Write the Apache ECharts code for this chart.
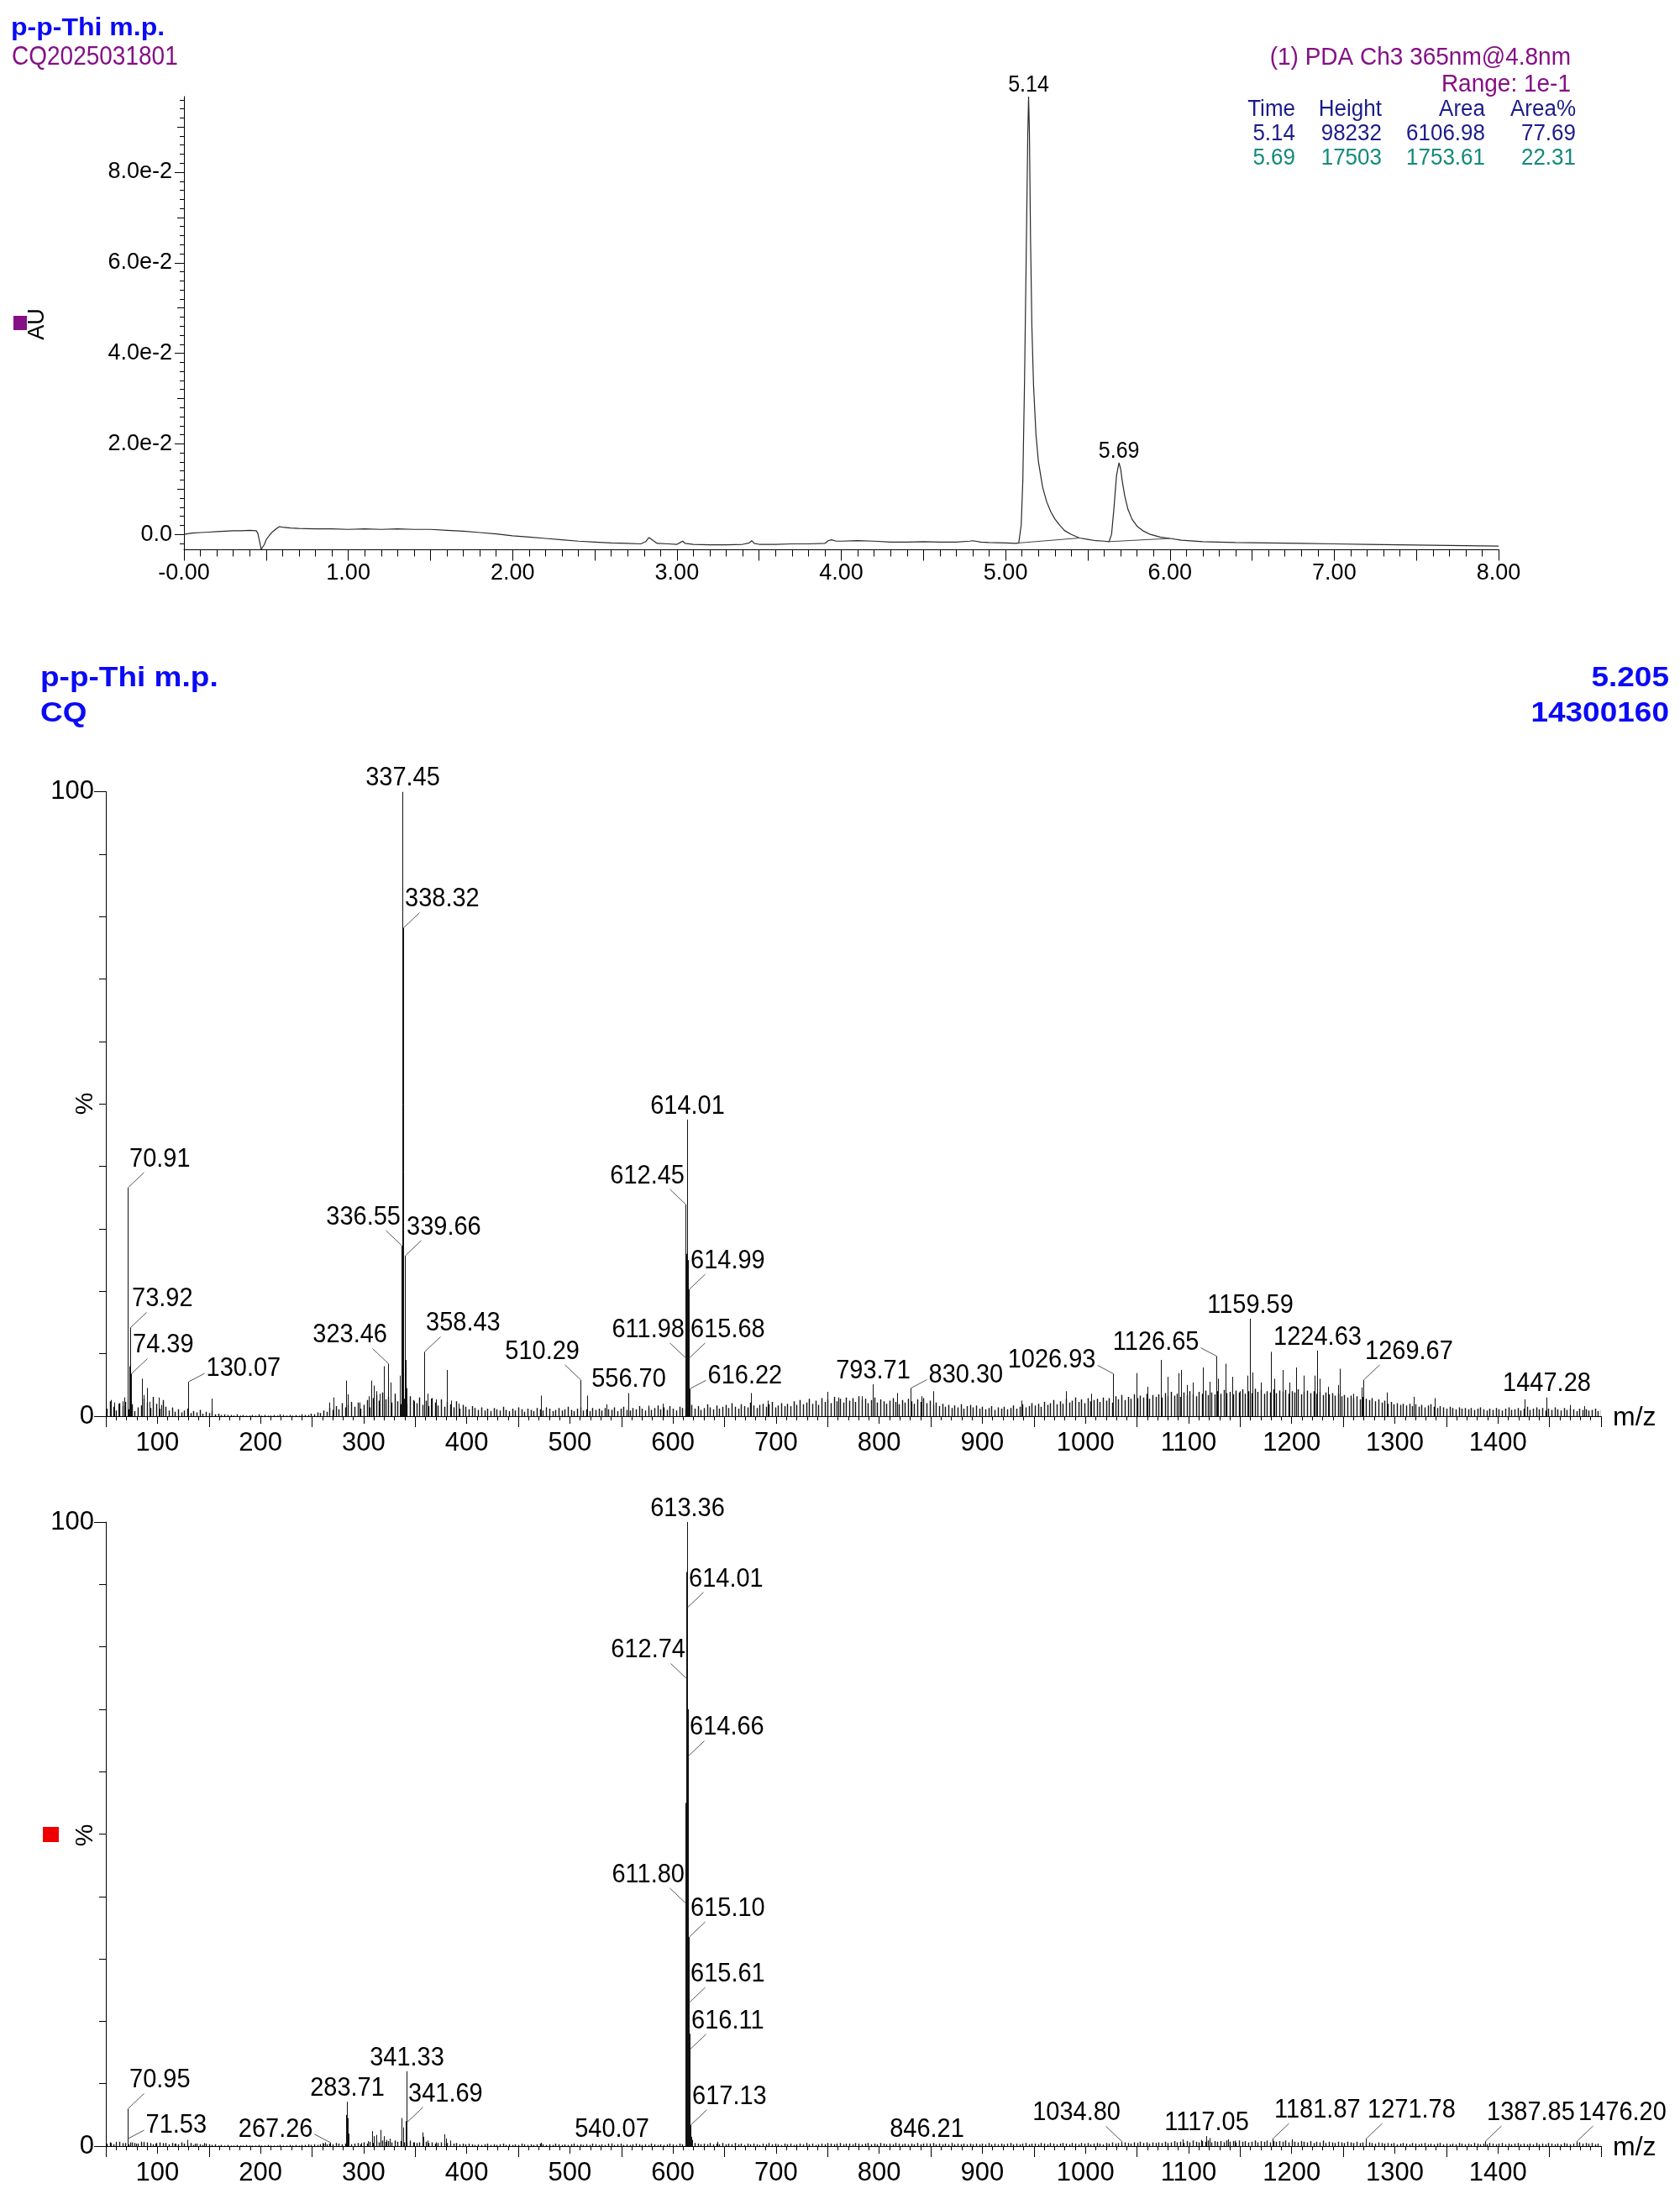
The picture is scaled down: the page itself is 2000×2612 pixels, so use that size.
<!DOCTYPE html>
<html><head><meta charset="utf-8">
<script src="https://cdn.jsdelivr.net/npm/echarts@6/dist/echarts.min.js"></script>
<style>html,body{margin:0;padding:0;background:#fff}#c{width:2000px;height:2612px}</style>
</head><body><div id="c"></div><script>
// ---------------- DATA: chromatogram (PDA Ch3 365nm) ----------------
const chromTime = [0,0.05,0.1,0.15,0.2,0.25,0.3,0.35,0.4,0.44,0.45,0.46,0.47,0.48,0.49,0.5,0.52,0.54,0.56,0.58,0.6,0.65,0.7,0.8,0.9,1.0,1.1,1.2,1.3,1.4,1.5,1.6,1.7,1.8,1.9,2.0,2.1,2.2,2.3,2.4,2.5,2.6,2.7,2.78,2.81,2.83,2.85,2.88,2.95,3.0,3.02,3.035,3.05,3.1,3.2,3.3,3.4,3.44,3.455,3.47,3.5,3.6,3.7,3.8,3.9,3.92,3.94,3.97,4.0,4.1,4.2,4.3,4.4,4.5,4.6,4.7,4.78,4.8,4.85,4.9,5.0,5.06,5.08,5.095,5.105,5.115,5.125,5.135,5.14,5.145,5.152,5.16,5.17,5.185,5.2,5.225,5.25,5.275,5.3,5.33,5.36,5.4,5.45,5.5,5.55,5.6,5.63,5.645,5.66,5.675,5.69,5.7,5.71,5.725,5.745,5.77,5.8,5.84,5.88,5.94,6.0,6.07,6.2,6.4,6.6,6.8,7.0,7.2,7.4,7.6,7.8,8.0];
const chromAU = [0.0000,0.0003,0.0004,0.0005,0.0006,0.0007,0.0008,0.0008,0.0009,0.0008,0.0002,-0.0015,-0.0033,-0.0030,-0.0022,-0.0012,-0.0002,0.0006,0.0012,0.0017,0.0016,0.0014,0.0013,0.0012,0.0012,0.0011,0.0012,0.0011,0.0012,0.0011,0.0011,0.0009,0.0007,0.0004,0.0001,-0.0003,-0.0006,-0.0009,-0.0012,-0.0015,-0.0017,-0.0019,-0.0020,-0.0021,-0.0016,-0.0007,-0.0012,-0.0020,-0.0021,-0.0022,-0.0018,-0.0015,-0.0020,-0.0022,-0.0023,-0.0023,-0.0022,-0.0019,-0.0014,-0.0020,-0.0022,-0.0022,-0.0021,-0.0021,-0.0020,-0.0014,-0.0012,-0.0015,-0.0015,-0.0014,-0.0015,-0.0017,-0.0017,-0.0016,-0.0017,-0.0017,-0.0015,-0.0014,-0.0017,-0.0018,-0.0019,-0.0020,-0.0019,0.0020,0.0120,0.0330,0.0600,0.0880,0.0967,0.0890,0.0650,0.0460,0.0330,0.0220,0.0160,0.0105,0.0072,0.0050,0.0034,0.0020,0.0008,0.0000,-0.0008,-0.0011,-0.0014,-0.0015,-0.0016,0.0000,0.0060,0.0130,0.0158,0.0145,0.0118,0.0085,0.0055,0.0033,0.0018,0.0007,0.0000,-0.0006,-0.0009,-0.0013,-0.0016,-0.0018,-0.0019,-0.0020,-0.0021,-0.0022,-0.0023,-0.0024,-0.0025,-0.0026];
const chromPeakTime = [5.14, 5.69];
const chromPeakAU = [0.0967, 0.0158];
const intBase1Time = [5.08, 5.45], intBase1AU = [-0.0019, -0.0008];
const intBase2Time = [5.63, 6.00], intBase2AU = [-0.0016, -0.0009];
const chromTitle = 'p-p-Thi m.p.';
const chromSample = 'CQ2025031801';
const chromChannel = '(1) PDA Ch3 365nm@4.8nm';
const chromRange = 'Range: 1e-1';
const tableHeader = ['Time', 'Height', 'Area', 'Area%'];
const tableRow1 = ['5.14', '98232', '6106.98', '77.69'];
const tableRow2 = ['5.69', '17503', '1753.61', '22.31'];
const chromYLabelValues = [0, 0.02, 0.04, 0.06, 0.08];

// ---------------- DATA: mass spectra ----------------
const msTitle = ['p-p-Thi m.p.', 'CQ'];
const msInfo = ['5.205', '14300160'];
// background noise intensities (%) at m/z 51, 54, 57 ... 1500
const ms1Noise = [
1.2,2.4,1.5,0.9,2.1,1.6,2.3,1.1,1.9,0.8,1.4,1.7,2.8,2.2,1.3,3.1,2.0,1.2,2.6,1.5,
0.9,1.3,0.7,1.1,0.6,0.9,1.2,0.5,0.8,0.6,1.0,0.4,0.7,0.5,0.8,0.3,0.4,0.2,0.3,0.2,
0.2,0.1,0.3,0.1,0.2,0.1,0.1,0.2,0.1,0.3,0.1,0.2,0.1,0.1,0.2,0.1,0.3,0.2,0.1,0.2,
0.1,0.2,0.1,0.3,0.2,0.2,0.4,0.3,0.6,0.5,0.9,0.7,1.3,1.0,1.6,1.1,2.1,1.4,1.8,2.3,
1.5,2.2,1.2,1.8,2.6,1.4,2.9,3.4,2.5,3.8,2.7,3.1,2.2,3.6,2.4,1.9,2.8,2.0,3.2,2.6,
2.1,3.0,1.8,2.5,1.6,2.9,2.2,1.7,2.7,1.5,2.3,1.9,1.4,2.4,1.2,1.8,1.5,1.1,1.6,1.3,
1.0,1.4,0.9,1.2,0.8,1.3,1.1,0.9,1.5,1.0,0.8,1.2,0.9,1.4,1.1,0.7,1.2,1.0,0.8,1.3,
1.1,0.9,1.4,1.2,0.8,1.0,1.3,0.9,1.1,1.5,1.0,0.8,1.2,1.4,0.9,1.1,0.8,1.3,1.0,1.2,
0.9,1.3,1.1,1.0,1.4,0.8,1.2,1.5,1.0,0.9,1.3,1.1,1.6,1.2,0.9,1.4,1.0,1.3,1.7,1.1,
1.4,1.0,1.6,1.2,0.9,1.5,1.3,1.1,1.4,1.8,1.2,1.6,1.0,1.3,1.9,1.4,1.1,1.7,1.2,1.5,
1.8,1.3,2.1,1.5,1.2,1.9,1.6,1.4,2.2,1.7,1.3,1.8,2.0,1.5,1.9,2.3,1.4,1.7,2.1,1.6,
2.0,1.6,2.4,1.8,2.6,1.9,2.2,2.8,2.0,2.5,1.8,2.9,2.3,2.7,2.1,3.1,2.4,2.8,2.2,3.0,
2.5,2.9,2.3,3.2,2.6,2.8,2.1,2.6,3.0,2.2,2.7,2.4,2.0,2.5,2.9,2.3,1.9,2.6,2.2,2.8,
2.4,2.0,2.7,2.3,2.9,2.1,2.5,1.8,2.2,1.6,2.0,1.5,1.8,1.3,1.7,1.4,1.9,1.2,1.6,1.8,
1.4,1.7,1.2,1.5,1.1,1.3,1.6,1.0,1.4,1.2,1.5,1.1,1.3,1.7,1.2,1.5,1.9,1.4,1.6,2.1,
1.7,2.0,1.5,2.3,1.8,2.1,2.6,1.9,2.4,2.0,2.8,2.2,2.5,3.0,2.3,2.7,2.1,2.9,2.4,2.6,
2.8,2.3,3.0,2.5,2.9,2.2,3.2,2.7,3.4,2.6,3.1,2.8,3.5,2.9,3.3,3.0,3.6,2.8,3.4,3.1,
3.5,3.0,3.7,3.2,3.9,3.3,3.6,3.1,3.8,3.4,4.0,3.5,3.2,3.9,3.6,4.1,3.4,3.8,3.5,4.0,
3.6,4.2,3.7,3.9,3.5,4.1,3.8,4.3,3.6,4.0,3.7,4.4,3.9,4.2,3.6,4.0,3.8,4.3,3.7,4.1,
3.9,4.2,3.6,4.0,3.8,4.3,3.5,3.9,4.1,3.7,4.0,3.6,3.9,3.4,3.8,3.5,3.7,3.3,3.6,3.2,
3.4,3.0,3.3,2.9,3.2,2.7,3.1,2.8,2.6,2.9,2.4,2.7,2.2,2.5,2.0,2.3,1.9,2.1,1.8,2.0,
1.7,2.0,1.6,1.9,1.5,1.8,1.4,1.7,1.9,1.5,1.3,1.6,1.4,1.2,1.5,1.3,1.1,1.4,1.2,1.3,
1.1,1.3,1.0,1.2,1.4,1.1,0.9,1.2,1.0,1.3,1.1,0.9,1.2,1.4,1.0,1.1,1.3,0.9,1.2,1.5,
1.0,1.2,1.4,1.1,1.3,0.9,1.2,1.0,1.4,1.1,0.9,1.3,1.0,1.2,1.1,0.8,1.2,1.0,1.1,0.9,
1.0,1.2,0.8,1.0];
const ms1PeakMz = [55,58.5,62,66.5,68,72.5,84.7,86.5,89.8,92.5,101,104,114,152.6,266.5,271,283.2,284.5,296,305,307.5,309.5,312.6,315.5,319.5,326,330,335.5,340.5,341.5,345,349,362,365,370,380.5,385,392,472,517,535.8,576,590,613.2,613.6,614.5,615.3,676,692,750,760,783,817,841,852,938,981,1005.7,1049.5,1060.5,1072.9,1080,1090,1093,1098,1104,1114,1120,1128.5,1136,1142.6,1150,1157,1162,1170,1180,1183,1191,1197.4,1204,1212,1222,1227,1235,1245,1247,1259.6,1268,1292,1318,1339,1426,1470,1484];
const ms1PeakPct = [2.6,2.2,2.0,2.4,3.0,8.0,6.0,3.4,4.5,2.3,3.0,1.8,1.4,2.8,2.2,3.0,5.7,3.5,2.2,3.2,5.7,4.9,4.0,3.6,8.0,5.4,3.0,6.5,9.0,4.5,3.0,2.4,3.6,2.8,2.7,7.4,2.5,2.0,3.3,3.3,1.9,1.7,2.0,26,30,25,12,3.7,2.5,3.9,3.0,3.2,3.7,3.2,4.0,2.5,4.0,3.6,6.9,4.7,9.0,6.3,6.9,7.4,5.0,5.4,7.8,5.5,6.0,8.4,6.3,4.0,6.5,7.0,5.4,10.3,6.0,7.4,5.4,7.8,6.5,6.5,6.0,4.7,5.0,7.6,3.6,4.6,3.8,3.1,2.9,2.7,1.8,1.6];
const ms1LabelMz = [70.91,73.92,74.39,130.07,323.46,336.55,337.45,338.32,339.66,358.43,510.29,556.70,611.98,612.45,614.01,614.99,615.68,616.22,793.71,830.30,1026.93,1126.65,1159.59,1224.63,1269.67,1447.28];
const ms1LabelPct = [36.6,14.2,6.8,5.5,8.4,27.3,100,78.2,25.7,10.3,5.8,3.7,9.3,33.9,47.5,20.3,9.3,4.4,5.1,4.5,6.8,9.6,15.6,10.5,5.8,3.0];

const ms2Noise = [
0.4,0.6,0.3,0.5,0.7,0.4,0.5,0.3,0.6,0.5,0.4,0.7,0.5,0.6,0.4,0.3,0.5,0.6,0.4,0.5,
0.3,0.5,0.4,0.3,0.6,0.4,0.3,0.5,0.2,0.4,0.3,0.2,0.4,0.3,0.2,0.3,0.1,0.2,0.1,0.2,
0.1,0.1,0.2,0.1,0.1,0.2,0.1,0.1,0.1,0.2,0.1,0.1,0.2,0.1,0.1,0.1,0.2,0.1,0.1,0.2,
0.1,0.2,0.1,0.2,0.2,0.3,0.2,0.3,0.2,0.3,0.4,0.3,0.4,0.3,0.5,0.4,0.3,0.4,0.5,0.3,
0.4,0.5,0.3,0.6,0.4,0.7,0.5,0.8,0.6,0.9,0.7,0.8,0.6,0.9,0.7,0.8,0.6,0.5,0.7,0.6,
0.5,0.6,0.4,0.7,0.5,0.6,0.4,0.5,0.6,0.4,0.5,0.3,0.4,0.5,0.3,0.4,0.3,0.4,0.3,0.2,
0.3,0.2,0.3,0.4,0.2,0.3,0.2,0.3,0.4,0.2,0.3,0.2,0.3,0.2,0.4,0.3,0.2,0.3,0.2,0.3,
0.4,0.3,0.2,0.3,0.2,0.4,0.3,0.2,0.3,0.2,0.3,0.4,0.2,0.3,0.2,0.3,0.2,0.4,0.3,0.2,
0.3,0.2,0.4,0.3,0.2,0.3,0.4,0.2,0.3,0.2,0.3,0.4,0.3,0.2,0.3,0.2,0.4,0.3,0.2,0.3,
0.2,0.3,0.4,0.3,0.2,0.4,0.3,0.2,0.4,0.3,0.5,0.4,0.3,0.4,0.3,0.5,0.3,0.4,0.3,0.5,
0.3,0.4,0.3,0.5,0.3,0.4,0.2,0.4,0.3,0.4,0.3,0.2,0.4,0.3,0.5,0.3,0.4,0.3,0.2,0.4,
0.3,0.4,0.2,0.3,0.4,0.3,0.5,0.3,0.4,0.2,0.3,0.4,0.3,0.5,0.4,0.3,0.4,0.5,0.3,0.4,
0.4,0.3,0.5,0.4,0.3,0.4,0.5,0.3,0.4,0.3,0.5,0.4,0.3,0.4,0.3,0.5,0.4,0.3,0.4,0.3,
0.4,0.3,0.5,0.3,0.4,0.3,0.4,0.5,0.3,0.4,0.3,0.4,0.3,0.5,0.3,0.4,0.3,0.4,0.3,0.4,
0.3,0.4,0.3,0.4,0.3,0.5,0.3,0.4,0.3,0.4,0.3,0.4,0.5,0.3,0.4,0.3,0.4,0.5,0.3,0.4,
0.4,0.3,0.5,0.4,0.3,0.5,0.4,0.3,0.4,0.5,0.4,0.3,0.5,0.4,0.3,0.5,0.4,0.5,0.3,0.4,
0.5,0.4,0.3,0.5,0.4,0.6,0.4,0.5,0.4,0.6,0.5,0.4,0.6,0.5,0.7,0.5,0.6,0.4,0.6,0.5,
0.6,0.5,0.7,0.5,0.6,0.8,0.6,0.7,0.5,0.8,0.6,0.9,0.7,0.6,0.8,0.7,0.9,0.6,0.8,0.7,
0.8,0.6,0.9,0.7,0.8,0.6,0.9,0.7,0.8,0.6,0.7,0.9,0.6,0.8,0.7,0.9,0.6,0.8,0.7,0.8,
0.7,0.9,0.6,0.8,0.7,0.6,0.8,0.7,0.6,0.8,0.5,0.7,0.6,0.8,0.5,0.7,0.6,0.5,0.7,0.6,
0.5,0.7,0.6,0.5,0.7,0.5,0.6,0.4,0.6,0.5,0.4,0.6,0.5,0.4,0.5,0.4,0.5,0.3,0.4,0.5,
0.4,0.3,0.5,0.4,0.3,0.4,0.5,0.3,0.4,0.3,0.4,0.5,0.3,0.4,0.3,0.4,0.3,0.5,0.4,0.3,
0.4,0.3,0.5,0.4,0.3,0.4,0.3,0.5,0.4,0.3,0.4,0.5,0.3,0.4,0.3,0.4,0.5,0.3,0.4,0.3,
0.4,0.3,0.5,0.3,0.4,0.3,0.5,0.4,0.3,0.4,0.3,0.5,0.4,0.3,0.4,0.5,0.6,0.4,0.5,0.4,
0.5,0.3,0.4,0.3];
const ms2PeakMz = [55,60,66,74,79,87,93,98,105,118,129,136,145,260,263,283.2,284.5,285.3,298,304,308,310,312,316,319.5,322,325,330,336.7,338.5,340.5,345,349,356.7,358,362,370,378.6,380,384,472,612.2,613.0,613.8,614.3,615.4,615.9,616.5,618,619,643,1094,1112,1120,1138,1145,1200,1230];
const ms2PeakPct = [0.5,0.7,0.5,0.6,0.4,0.7,0.5,0.4,0.5,0.4,1.0,0.4,0.5,0.5,0.6,5.0,4.5,2.0,0.5,0.8,2.4,1.6,1.8,2.6,1.6,1.0,1.2,0.8,4.5,3.0,4.0,0.9,0.6,2.2,1.5,0.9,0.6,1.9,1.2,0.9,0.55,55,92,80,70,28,18,10,1.5,1.0,0.7,1.1,1.0,1.3,1.1,0.9,1.1,0.9];
const ms2LabelMz = [70.95,71.53,267.26,283.71,341.33,341.69,540.07,611.80,612.74,613.36,614.01,614.66,615.10,615.61,616.11,617.13,846.21,1034.80,1117.05,1181.87,1271.78,1387.85,1476.20];
const ms2LabelPct = [6.0,1.2,0.55,7.1,12.0,3.8,0.45,38.9,74.9,100,86.3,62.5,33.5,23.0,15.5,3.4,0.45,0.75,1.6,1.2,1.2,0.8,0.8];

// ---------------- STYLE / LAYOUT (not data) ----------------
const NOISE_START = 51, NOISE_STEP = 3;
const ms1LabelMode = ['ur','ur','ur','r','ul','ul','top','ur','ur','ur','ul','top','ul','ul','top','ur','ur','r','top','r','l','l','top','top','ur','top'];
const ms2LabelMode = ['ur','r','l','top','top','ur','top','ul','ul','top','ur','ur','ur','ur','ur','ur','top','ul','top','ur','ur','ur','ur'];
const LABEL_LAYOUT = {
  top: {lx: 0, ly: 0, tx: 0, ty: -16, align: 'center'},
  ur: {lx: 19, ly: -18, tx: 1.5, ty: -34, align: 'left'},
  ul: {lx: -19, ly: -18, tx: -1.5, ty: -34, align: 'right'},
  r: {lx: 19, ly: -10, tx: 21, ty: -15.5, align: 'left'},
  l: {lx: -19, ly: -10, tx: -21, ty: -16, align: 'right'}
};
const LABEL_SCALE_Y = 1.1;   // reference digits are slightly condensed
const FONT = '"Liberation Sans", Arial, Helvetica, sans-serif';
const BLUE = '#0a0af5', PURPLE = '#850f85', NAVY = '#1c1c8a', TEAL = '#138a7a';

// ---------------- build ----------------
const chart = echarts.init(document.getElementById('c'), null, {renderer: 'canvas', width: 2000, height: 2612});

function pairs(xs, ys) { return xs.map((x, i) => [x, ys[i]]); }
function noisePairs(noise) { return noise.map((v, i) => [NOISE_START + NOISE_STEP * i, v]); }
function stickRender(width) {
  return function (params, api) {
    const x = api.value(0), y = api.value(1);
    const p0 = api.coord([x, 0]), p1 = api.coord([x, y]);
    const px = Math.round(p0[0]) + 0.5;
    return {type: 'line', silent: true, shape: {x1: px, y1: p0[1], x2: px, y2: p1[1]}, style: {stroke: '#111', lineWidth: width}};
  };
}
function labelRender(modes) {
  return function (params, api) {
    const i = params.dataIndex;
    const x = api.value(0), y = api.value(1);
    const p = api.coord([x, y]);
    const L = LABEL_LAYOUT[modes[i]];
    const px = Math.round(p[0]) + 0.5;
    const children = [];
    if (L.lx || L.ly) children.push({type: 'line', shape: {x1: px, y1: p[1], x2: px + L.lx, y2: p[1] + L.ly}, style: {stroke: '#555', lineWidth: 1}});
    children.push({type: 'text', x: px + L.tx, y: p[1] + L.ty, scaleY: LABEL_SCALE_Y,
      style: {text: x.toFixed(2), fill: '#000', font: '29px ' + FONT, align: L.align, verticalAlign: 'middle'}});
    return {type: 'group', children: children};
  };
}
function chromLabelRender(params, api) {
  const x = api.value(0), y = api.value(1);
  const p = api.coord([x, y]);
  return {type: 'text', x: p[0], y: p[1] - 14, scaleY: LABEL_SCALE_Y,
    style: {text: x.toFixed(2), fill: '#000', font: '25px ' + FONT, align: 'center', verticalAlign: 'middle'}};
}

const tickStyle = {color: '#000', width: 1};
const noLine = {show: false, onZero: false};
function chromYTicks(step, from, to) { const a = []; for (let k = from; k <= to; k++) a.push(+(k * step).toFixed(4)); return a; }

const xAxes = [
  {gridIndex: 0, position: 'bottom', type: 'value', min: 0, max: 8, interval: 0.5,
   axisLine: {onZero: false, lineStyle: tickStyle}, axisTick: {length: 13, lineStyle: tickStyle},
   axisLabel: {fontSize: 27, fontFamily: FONT, color: '#000', margin: 15, showMinLabel: true, showMaxLabel: true,
     formatter: v => Math.abs(v - Math.round(v)) < 1e-6 ? (v === 0 ? '-0.00' : v.toFixed(2)) : ''},
   splitLine: {show: false}},
  {gridIndex: 0, position: 'bottom', type: 'value', min: 0, max: 8, interval: 0.1,
   axisLine: noLine, axisTick: {length: 8, lineStyle: tickStyle}, axisLabel: {show: false}, splitLine: {show: false}}
];
const yAxes = [
  {gridIndex: 0, position: 'left', type: 'value', min: -0.0034, max: 0.0967,
   axisLine: {show: true, onZero: false, lineStyle: tickStyle},
   axisTick: {length: 5, lineStyle: tickStyle, customValues: chromYTicks(0.002, -1, 48)},
   axisLabel: {fontSize: 27, fontFamily: FONT, color: '#000', margin: 14, customValues: chromYLabelValues,
     formatter: v => Math.abs(v) < 1e-9 ? '0.0' : (v * 100).toFixed(1) + 'e-2'},
   splitLine: {show: false}},
  {gridIndex: 0, position: 'left', type: 'value', min: -0.0034, max: 0.0967,
   axisLine: noLine, axisTick: {length: 8, lineStyle: tickStyle, customValues: chromYTicks(0.01, 0, 9)},
   axisLabel: {show: false}, splitLine: {show: false}},
  {gridIndex: 0, position: 'left', type: 'value', min: -0.0034, max: 0.0967,
   axisLine: noLine, axisTick: {length: 11, lineStyle: tickStyle, customValues: chromYLabelValues},
   axisLabel: {show: false}, splitLine: {show: false}}
];
[1, 2].forEach(g => {
  xAxes.push(
    {gridIndex: g, position: 'bottom', type: 'value', min: 50, max: 1500, interval: 50,
     axisLine: {onZero: false, lineStyle: tickStyle}, axisTick: {length: 9, lineStyle: tickStyle},
     axisLabel: {fontSize: 31, fontFamily: FONT, color: '#000', margin: 17,
       formatter: v => (v % 100 === 0 && v > 50 && v < 1500) ? String(v) : ''},
     splitLine: {show: false}},
    {gridIndex: g, position: 'bottom', type: 'value', min: 50, max: 1500, interval: 100,
     axisLine: noLine, axisTick: {length: 13, lineStyle: tickStyle}, axisLabel: {show: false}, splitLine: {show: false}},
    {gridIndex: g, position: 'bottom', type: 'value', min: 50, max: 1500, interval: 10,
     axisLine: noLine, axisTick: {length: 5, lineStyle: tickStyle}, axisLabel: {show: false}, splitLine: {show: false}}
  );
  yAxes.push(
    {gridIndex: g, position: 'left', type: 'value', min: 0, max: 100, interval: 10,
     axisLine: {show: true, onZero: false, lineStyle: tickStyle}, axisTick: {length: 8, lineStyle: tickStyle},
     axisLabel: {fontSize: 31, fontFamily: FONT, color: '#000', margin: 14, showMinLabel: true, showMaxLabel: true,
       formatter: v => (v === 0 || v === 100) ? String(v) : ''},
     splitLine: {show: false}},
    {gridIndex: g, position: 'left', type: 'value', min: 0, max: 100, interval: 100,
     axisLine: noLine, axisTick: {length: 14, lineStyle: tickStyle}, axisLabel: {show: false}, splitLine: {show: false}}
  );
});
// axis indices: chrom x 0 / y 0; spectrum 1 x 2 / y 3; spectrum 2 x 5 / y 5

function txt(x, y, text, font, fill, align, extra) {
  return Object.assign({type: 'text', x: x, y: y, silent: true, style: {text: text, font: font, fill: fill, align: align || 'left', verticalAlign: 'middle'}}, extra || {});
}
const colRight = [1542, 1645, 1768, 1876];
const TITLE_SY = {scaleY: 0.88};
const graphics = [
  txt(13, 34, chromTitle, 'bold 32px ' + FONT, BLUE, 'left', {scaleY: 0.9}),
  txt(14, 69, chromSample, '28px ' + FONT, PURPLE, 'left', {scaleY: 1.1}),
  {type: 'rect', shape: {x: 16, y: 376, width: 16, height: 17}, style: {fill: PURPLE}, silent: true},
  txt(45, 386, 'AU', '27px ' + FONT, '#000', 'center', {rotation: Math.PI / 2}),
  txt(1870, 69, chromChannel, '28px ' + FONT, PURPLE, 'right', {scaleY: 1.05}),
  txt(1870, 101, chromRange, '28px ' + FONT, PURPLE, 'right', {scaleY: 1.05}),
  txt(48, 808, msTitle[0], 'bold 37px ' + FONT, BLUE, 'left', TITLE_SY),
  txt(48, 850, msTitle[1], 'bold 37px ' + FONT, BLUE, 'left', TITLE_SY),
  txt(1987, 808, msInfo[0], 'bold 37px ' + FONT, BLUE, 'right', TITLE_SY),
  txt(1987, 850, msInfo[1], 'bold 37px ' + FONT, BLUE, 'right', TITLE_SY),
  txt(102, 1314, '%', '30px ' + FONT, '#000', 'center', {rotation: Math.PI / 2}),
  txt(102, 2185, '%', '30px ' + FONT, '#000', 'center', {rotation: Math.PI / 2}),
  {type: 'rect', shape: {x: 51, y: 2175, width: 19, height: 18}, style: {fill: '#ee0000'}, silent: true},
  txt(1920, 1688, 'm/z', '32px ' + FONT, '#000'),
  txt(1920, 2557, 'm/z', '32px ' + FONT, '#000')
];
tableHeader.forEach((t, i) => graphics.push(txt(colRight[i], 130, t, '26px ' + FONT, NAVY, 'right', {scaleY: 1.06})));
tableRow1.forEach((t, i) => graphics.push(txt(colRight[i], 159, t, '26px ' + FONT, NAVY, 'right', {scaleY: 1.06})));
tableRow2.forEach((t, i) => graphics.push(txt(colRight[i], 188, t, '26px ' + FONT, TEAL, 'right', {scaleY: 1.06})));

const option = {
  animation: false,
  backgroundColor: '#fff',
  textStyle: {fontFamily: FONT},
  grid: [
    {left: 219, top: 115, width: 1565, height: 539.5, containLabel: false, outerBoundsMode: 'none'},
    {left: 126, top: 942.5, width: 1780, height: 743.5, containLabel: false, outerBoundsMode: 'none'},
    {left: 126, top: 1812, width: 1780, height: 743, containLabel: false, outerBoundsMode: 'none'}
  ],
  xAxis: xAxes,
  yAxis: yAxes,
  graphic: graphics,
  series: [
    {type: 'line', xAxisIndex: 0, yAxisIndex: 0, data: pairs(chromTime, chromAU),
     showSymbol: false, symbol: 'none', lineStyle: {color: '#2a2a2a', width: 1.2}, silent: true, clip: false},
    {type: 'line', xAxisIndex: 0, yAxisIndex: 0, data: pairs(intBase1Time, intBase1AU),
     showSymbol: false, symbol: 'none', lineStyle: {color: '#444', width: 1}, silent: true},
    {type: 'line', xAxisIndex: 0, yAxisIndex: 0, data: pairs(intBase2Time, intBase2AU),
     showSymbol: false, symbol: 'none', lineStyle: {color: '#444', width: 1}, silent: true},
    {type: 'custom', xAxisIndex: 0, yAxisIndex: 0, renderItem: chromLabelRender, clip: false, silent: true,
     data: pairs(chromPeakTime, chromPeakAU), encode: {x: 0, y: 1}},
    // spectrum 1
    {type: 'custom', xAxisIndex: 2, yAxisIndex: 3, renderItem: stickRender(1.4), clip: true, silent: true,
     data: noisePairs(ms1Noise), encode: {x: 0, y: 1}},
    {type: 'custom', xAxisIndex: 2, yAxisIndex: 3, renderItem: stickRender(1), clip: true, silent: true,
     data: pairs(ms1PeakMz, ms1PeakPct).concat(pairs(ms1LabelMz, ms1LabelPct)), encode: {x: 0, y: 1}},
    {type: 'custom', xAxisIndex: 2, yAxisIndex: 3, renderItem: labelRender(ms1LabelMode), clip: false, silent: true,
     data: pairs(ms1LabelMz, ms1LabelPct), encode: {x: 0, y: 1}},
    // spectrum 2
    {type: 'custom', xAxisIndex: 5, yAxisIndex: 5, renderItem: stickRender(1.4), clip: true, silent: true,
     data: noisePairs(ms2Noise), encode: {x: 0, y: 1}},
    {type: 'custom', xAxisIndex: 5, yAxisIndex: 5, renderItem: stickRender(1), clip: true, silent: true,
     data: pairs(ms2PeakMz, ms2PeakPct).concat(pairs(ms2LabelMz, ms2LabelPct)), encode: {x: 0, y: 1}},
    {type: 'custom', xAxisIndex: 5, yAxisIndex: 5, renderItem: labelRender(ms2LabelMode), clip: false, silent: true,
     data: pairs(ms2LabelMz, ms2LabelPct), encode: {x: 0, y: 1}}
  ]
};
chart.setOption(option);
</script></body></html>
